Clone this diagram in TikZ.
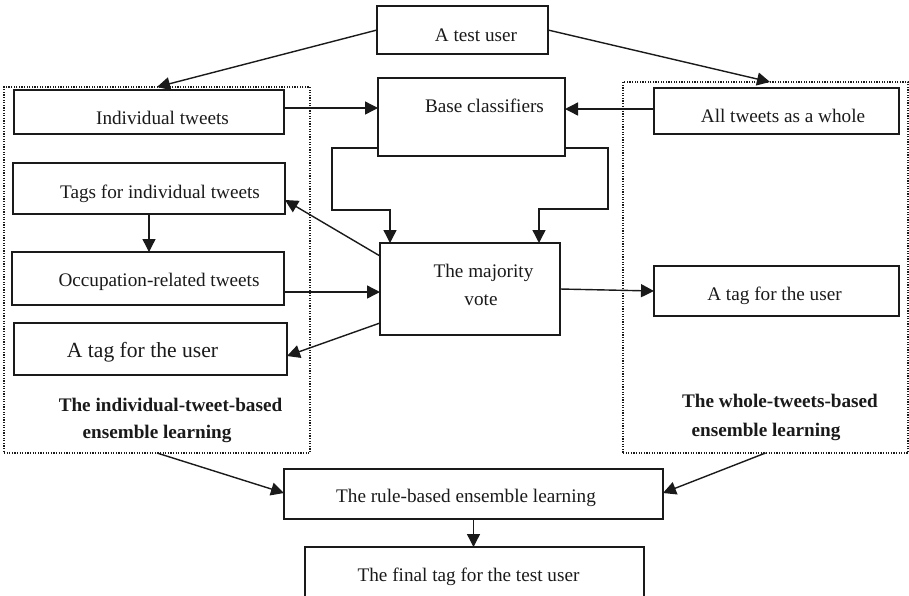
\documentclass[tikz,border=0pt]{standalone}
\usepackage{fontspec}
\setmainfont{Liberation Serif}
\usetikzlibrary{arrows.meta}
\definecolor{ink}{HTML}{1A1A1A}
\begin{document}
\begin{tikzpicture}[x=1pt,y=-1pt,
  box/.style={draw=ink, line width=1.4pt, inner sep=0pt, outer sep=0pt},
  dotbox/.style={draw=ink, line width=1.2pt, dash pattern=on 1.2pt off 1.4pt, inner sep=0pt, outer sep=0pt},
  txt/.style={anchor=base, inner sep=0pt, text=ink, font=\fontsize{19.2}{23}\selectfont},
  bigtxt/.style={anchor=base, inner sep=0pt, text=ink, font=\fontsize{21.6}{26}\selectfont},
  boldtxt/.style={anchor=base, inner sep=0pt, text=ink, font=\fontsize{19.2}{23}\selectfont\bfseries},
  arr/.style={draw=ink, line width=1.4pt, -{Triangle[length=13pt,width=13pt]}}]
\clip (0,0) rectangle (909,595);
\fill[white] (0,0) rectangle (909,595);
% group frames
\node[dotbox, minimum width=306pt, minimum height=366pt] (ldot) at (157,270) {};
\node[dotbox, minimum width=285pt, minimum height=371pt] (rdot) at (765.5,267.5) {};
% boxes
\node[box, minimum width=171pt, minimum height=48pt] (tu) at (462.5,30) {};
\node[box, minimum width=270pt, minimum height=44pt] (ind) at (149,112) {};
\node[box, minimum width=272pt, minimum height=51pt] (tags) at (149,188.5) {};
\node[box, minimum width=272pt, minimum height=53pt] (occ) at (148,278.5) {};
\node[box, minimum width=273pt, minimum height=52pt] (ltag) at (150.5,349) {};
\node[box, minimum width=187pt, minimum height=78pt] (bc) at (471.5,117) {};
\node[box, minimum width=180pt, minimum height=92pt] (mv) at (470,289) {};
\node[box, minimum width=245pt, minimum height=46pt] (at) at (776.5,111) {};
\node[box, minimum width=245pt, minimum height=50pt] (rtag) at (776.5,291) {};
\node[box, minimum width=379pt, minimum height=50pt] (rule) at (473.5,494) {};
\node[box, minimum width=339pt, minimum height=63pt] (final) at (474.5,578.5) {};
% texts
\node[txt] (tuT) at (476,41) {A test user};
\node[txt] (indT) at (162.5,124) {Individual tweets};
\node[txt] (bcT) at (484.5,112) {Base classifiers};
\node[txt] (atT) at (783,122) {All tweets as a whole};
\node[txt] (tagsT) at (160,198) {Tags for individual tweets};
\node[txt] (occT) at (159,286) {Occupation-related tweets};
\node[txt] (mvT1) at (483.5,277) {The majority};
\node[txt] (mvT2) at (481,305) {vote};
\node[txt] (rtagT) at (774.5,300) {A tag for the user};
\node[bigtxt] (ltagT) at (142.5,357) {A tag for the user};
\node[boldtxt] (lgT1) at (170.5,411) {The individual-tweet-based};
\node[boldtxt] (lgT2) at (157,438) {ensemble learning};
\node[boldtxt] (rgT1) at (780,407) {The whole-tweets-based};
\node[boldtxt] (rgT2) at (766,436) {ensemble learning};
\node[txt] (ruleT) at (466,502) {The rule-based ensemble learning};
\node[txt] (finalT) at (468.5,581) {The final tag for the test user};
% connectors
\draw[arr] (tu.west) -- (ldot.north);
\draw[arr] (tu.east) -- (rdot.north -| 770,0);
\draw[arr] (ind.east |- 0,108) -- (bc.west |- 0,108);
\draw[arr] (at.west |- 0,109) -- (bc.east |- 0,109);
\draw[arr] (bc.west |- 0,148) -| (332,210) -| (390,0 |- mv.north);
\draw[arr] (bc.east |- 0,148) -| (608,209) -| (539,0 |- mv.north);
\draw[arr] (mv.west |- 0,256) -- (288,200 -| tags.east);
\draw[arr] (tags.south) -- (occ.north -| tags.south);
\draw[arr] (occ.east |- 0,292) -- (mv.west |- 0,292);
\draw[arr] (mv.east |- 0,289) -- (rtag.west |- 0,291);
\draw[arr] (mv.west |- 0,323) -- (ltag.east |- 0,356);
\draw[arr] (ldot.south) -- (rule.west |- 0,493);
\draw[arr] (rdot.south) -- (rule.east |- 0,493);
\draw[arr] (rule.south) -- (rule.south |- final.north);
\end{tikzpicture}
\end{document}
